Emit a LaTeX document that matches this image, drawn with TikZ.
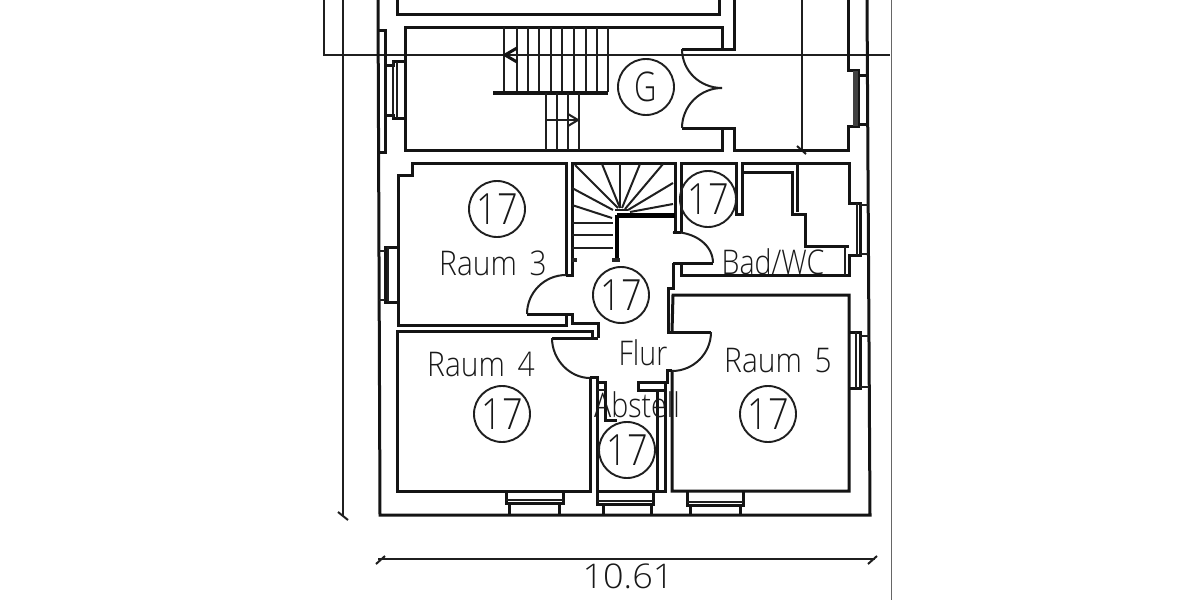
\documentclass[tikz,border=0pt]{standalone}
\usepackage{fontspec}
\usepackage{graphicx}
\newfontfamily\cad{Open Sans Light}
\tikzset{
  wall/.style={draw=black!92,line width=3pt,line join=miter},
  thin/.style={draw=black!88,line width=2pt},
  heavy/.style={draw=black,line width=4.2pt},
  ring/.style={circle,draw=black!88,line width=1.9pt,minimum size=56pt,inner sep=0pt,font=\cad\fontsize{43}{43}\selectfont,text=black!90},
  lbl/.style={inner sep=0pt,font=\cad\fontsize{34}{34}\selectfont,text=black!90},
}
\newcommand{\seventeen}{\scalebox{.84}[1]{17}}
\begin{document}
\begin{tikzpicture}[x=1pt,y=-1pt]
\useasboundingbox[fill=white] (0,0) rectangle (1200,600);
% dimension lines
\draw[thin] (324,0) -- (324,55) -- (890,55);
\draw[thin] (343,0) -- (343,516);
\draw[thin] (338,512) -- (348,520);
\draw[thin] (802,0) -- (802,150);
\draw[thin] (797,146) -- (806,154);
\draw[draw=black!60,line width=1pt] (891,0) -- (891,600);
\draw[thin] (378,559) -- (875,559);
\draw[thin] (376,564) -- (385,556);
\draw[thin] (868,564) -- (877,556);
% outer walls
\draw[wall] (378,0) -- (380,515) -- (870,515) -- (867,0);
\draw[wall] (848,0) -- (848,70) -- (858,70) -- (858,126) -- (848,126) -- (848,150) -- (734,150) -- (734,128) -- (682,128);
\draw[wall] (397,0) -- (397,14) -- (719,14) -- (719,0);
\draw[wall] (734,0) -- (734,49) -- (682,49);
\draw[wall] (722,128) -- (722,150) -- (405,150) -- (405,27) -- (722,27) -- (722,49);
\draw[thin] (682,49) .. controls (682,71) and (700,88) .. (722,88);
\draw[thin] (682,128) .. controls (682,106) and (700,88) .. (722,88);
% top left window
\draw[wall] (378,30) -- (385,30) -- (385,152) -- (378,152);
\draw[wall] (385,65) -- (393,65) -- (393,61) -- (405,61);
\draw[wall] (385,115) -- (393,115) -- (393,118) -- (405,118);
\draw[thin] (393,61) -- (393,118);
\draw[thin] (397,62) -- (397,118);
% top right window
\draw[draw=black!75,line width=5pt] (855.5,71) -- (855.5,126);
\draw[wall] (858,75) -- (867,75);
\draw[wall] (858,124) -- (868,124);
% upper stairs
\foreach \x in {504,517,528,539,551,562,574,586,597,608} \draw[thin] (\x,27) -- (\x,92);
\draw[wall,line width=3.6pt] (493,93) -- (608,93);
\foreach \x in {546,557,568,579} \draw[thin] (\x,93) -- (\x,150);
\draw[thin] (546,120) -- (578,120);
\draw[thin] (568,114) -- (578,120) -- (568,126);
\draw[wall] (517,48) -- (505,55) -- (517,62);
% room 3
\draw[wall] (566,275) -- (566,163) -- (412,163) -- (412,175) -- (398,175) -- (398,325) -- (566,325) -- (566,314) -- (527,314);
\draw[thin] (566,275) .. controls (544.5,275) and (527,292.5) .. (527,314);
\draw[wall] (398,247) -- (385,247) -- (385,302) -- (398,302);
\draw[thin] (388,247) -- (388,302);
\draw[thin] (379,251) -- (385,251);
\draw[thin] (379,300) -- (385,300);
% stairwell
\draw[wall] (566,275) -- (572,275) -- (572,163) -- (675,163) -- (675,232) -- (673,232);
\draw[wall] (566,314) -- (572,314) -- (572,323) -- (598,323) -- (598,338);
\foreach \y in {223,235,248} \draw[thin] (572,\y) -- (613,\y);
\draw[thin] (572,188) -- (613,210);
\draw[thin] (572,205) -- (612,218);
\draw[thin] (575,165) -- (618,208);
\draw[thin] (602,164) -- (620,208);
\draw[thin] (620,164) -- (620,208);
\draw[thin] (640,164) -- (622,208);
\draw[thin] (663,164) -- (625,209);
\draw[thin] (673,183) -- (628,210);
\draw[thin] (673,204) -- (630,212);
\draw[heavy] (617,215) -- (617,259);
\draw[heavy] (617,215.5) -- (675,215.5);
\draw[thin] (615,210) -- (628,210);
\draw[fill=black!85,draw=none] (612,258) rectangle (620,262);
\draw[fill=black!85,draw=none] (572,258) rectangle (577,262);
% bath
\draw[wall] (681,232) -- (681,163) -- (736,163) -- (736,214) -- (742,214) -- (742,163) -- (849,163) -- (849,203) -- (860,203) -- (860,255) -- (849,255) -- (849,275) -- (681,275) -- (681,263) -- (673,263);
\draw[thin] (673,232) .. controls (695,232) and (713,245) .. (713,263);
\draw[wall] (713,263) -- (673,263);
\draw[wall] (673,232) -- (681,232);
\draw[wall] (742,172) -- (792,172) -- (792,214) -- (805,214) -- (805,246) -- (849,246);
\draw[wall] (797,163) -- (797,212);
\draw[thin] (845,247) -- (845,275);
\draw[thin] (857,203) -- (857,255);
\draw[thin] (860,205) -- (868,205);
\draw[thin] (860,254) -- (868,254);
% room 4
\draw[wall] (552,338) -- (592,338) -- (592,331) -- (397,331) -- (397,491) -- (590,491) -- (590,377);
\draw[thin] (552,338) .. controls (552,360) and (570,378) .. (590,378);
\draw[wall] (592,338) -- (598,338);
\draw[wall] (506,491) -- (506,503) -- (563,503) -- (563,491);
\draw[thin] (506,500) -- (563,500);
\draw[wall] (509,503) -- (509,515);
\draw[wall] (559,503) -- (559,515);
% store room
\draw[wall] (590,377) -- (597,377) -- (597,491) -- (597,504) -- (653,504) -- (653,491);
\draw[wall] (597,382) -- (605,382) -- (605,420) -- (617,420);
\draw[thin] (597,390) -- (605,390);
\draw[wall] (597,491) -- (665,491) -- (665,382) -- (638,382) -- (638,390) -- (665,390);
\draw[wall] (657,390) -- (657,491);
\draw[wall] (665,382) -- (667,382) -- (667,370) -- (672,370);
\draw[thin] (597,501) -- (653,501);
\draw[wall] (603,504) -- (603,515);
\draw[wall] (651,504) -- (651,515);
% room 5
\draw[wall] (711,332) -- (668,332) -- (668,288) -- (673,288) -- (673,263);
\draw[wall] (672,332) -- (673,295) -- (849,295) -- (849,491) -- (672,491) -- (672,370);
\draw[thin] (711,332) .. controls (711,353.5) and (693.5,371) .. (672,371);
\draw[wall] (687,491) -- (687,505) -- (743,505) -- (743,491);
\draw[thin] (687,502) -- (743,502);
\draw[wall] (690,505) -- (690,515);
\draw[wall] (740,505) -- (740,515);
\draw[wall] (849,332) -- (860,332) -- (860,388) -- (849,388);
\draw[thin] (856,332) -- (856,388);
\draw[thin] (860,336) -- (869,336);
\draw[thin] (860,387) -- (869,387);
% rings
\node[ring] (rg) at (646,87) {\scalebox{.72}[.95]{G}};
\node[ring] (r3) at (497,209) {\seventeen};
\node[ring] (rb) at (708,199) {\seventeen};
\node[ring] (rf) at (621,295) {\seventeen};
\node[ring] (r4) at (502,414) {\seventeen};
\node[ring] (r5) at (768,414) {\seventeen};
\node[ring] (ra) at (627,450) {\seventeen};
% labels
\node[lbl,xscale=.88] (t3) at (493,263) {Raum\, 3};
\node[lbl,xscale=.88] (t4) at (481,364) {Raum\, 4};
\node[lbl,xscale=.88] (t5) at (778,361) {Raum\, 5};
\node[lbl,xscale=.84] (tb) at (773,262) {Bad/WC};
\node[lbl,xscale=.84] (tf) at (643,353) {Flur};
\node[lbl,xscale=.84] (ts) at (637,405) {Abstell};
\node[lbl,xscale=1.06] (td) at (628,576) {10.61};
\end{tikzpicture}
\end{document}
